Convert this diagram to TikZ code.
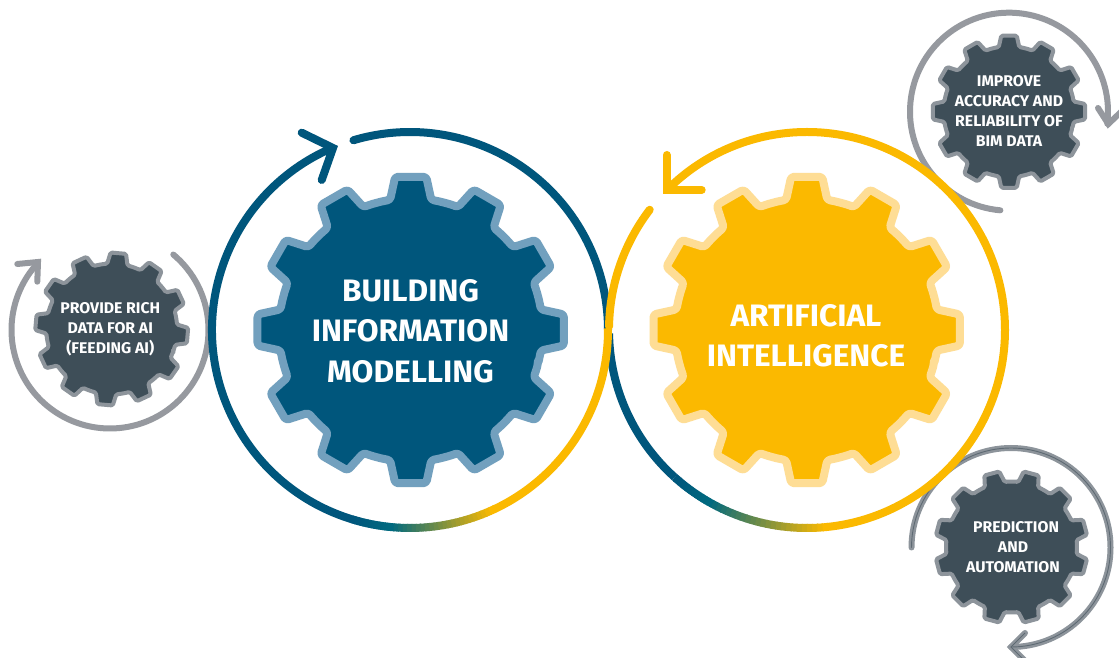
\documentclass[tikz,border=0pt]{standalone}
\usepackage{fontspec}
\setmainfont{Fira Sans}
\newfontfamily\lab[FakeStretch=1.02]{Fira Sans}
\newfontfamily\labs[FakeStretch=1.02]{Fira Sans}
\definecolor{bimblue}{HTML}{00567C}
\definecolor{bimedge}{HTML}{72A0BE}
\definecolor{aiyel}{HTML}{FBB900}
\definecolor{aiedge}{HTML}{FEDD95}
\definecolor{ringgrey}{HTML}{96999F}
\definecolor{gearfill}{HTML}{3E4E58}
\definecolor{gearedge}{HTML}{8D949B}
\definecolor{midteal}{HTML}{00697F}
\newcommand{\gearat}[5]{%
  \pgfmathsetmacro\gR{#3}\pgfmathsetmacro\gr{#3*0.855}%
  \draw[#5,shift={(#1,#2)},rotate=#4] (-15:\gr)
    \foreach \ga in {0,30,...,330}{
      arc[start angle=\ga-15,end angle=\ga-9,radius=\gr]
      -- (\ga-5.8:\gR) -- (\ga+5.8:\gR) -- (\ga+9:\gr)
      arc[start angle=\ga+9,end angle=\ga+15,radius=\gr] } -- cycle;}
\newcommand{\gradarc}[6]{% cx cy from to colA colB
  \begin{scope}[shift={(#1,#2)}]
  \foreach \gi in {0,...,23}{
    \pgfmathsetmacro\gp{100*\gi/23}
    \pgfmathsetmacro\gst{#3+(#4-#3)*\gi/24}
    \pgfmathsetmacro\gd{(#4-#3)/24+0.25}
    \colorlet{gcol}{#6!\gp!#5}
    \draw[bigring,gcol,line cap=butt] (\gst:198) arc[start angle=\gst,delta angle=\gd,radius=198];
  }
  \end{scope}}
\tikzset{
  x=1pt,y=1pt,
  bigring/.style={line width=8pt,line cap=round,line join=miter},
  smallring/.style={line width=6pt,ringgrey,line cap=round,line join=miter},
  bimgear/.style={fill=bimblue,draw=bimedge,line width=8pt,rounded corners=3pt,line join=round},
  aigear/.style={fill=aiyel,draw=aiedge,line width=8pt,rounded corners=3pt,line join=round},
  smallgear/.style={fill=gearfill,draw=gearedge,line width=4pt,rounded corners=1.5pt,line join=round},
  bigtext/.style={text=white,align=center,font=\lab\bfseries\fontsize{31}{40.5}\selectfont,inner sep=0pt},
  smalltext/.style={text=white,align=center,font=\labs\bfseries\fontsize{15.5}{20}\selectfont,inner sep=0pt},
}
\begin{document}
\begin{tikzpicture}
\useasboundingbox (0,0) rectangle (1119,658);
\clip (0,0) rectangle (1119,658);
\fill[white] (0,0) rectangle (1119,658);
% small rings
\draw[smallring] (110,328) ++(50:98.5) arc[start angle=50,end angle=-223,radius=98.5];
\draw[smallring] (17.3,394) -- (38,396) -- (37.3,376.3);
\draw[smallring] (1009,546.3) ++(265:99) arc[start angle=265,end angle=-7,radius=99];
\draw[smallring] (1098,550) -- (1108.3,534) -- (1122,547);
\draw[smallring,line width=6pt,gearedge] (1011,110.5) ++(180:99.5) arc[start angle=180,end angle=-90,radius=99.5];
\draw[smallring,line width=6pt,gearedge] (1025,25) -- (1011,11) -- (1025,-3);
\draw[line width=.9pt,gearfill!60!gearedge,line cap=round] (1011,110.5) ++(180:99.5) arc[start angle=180,end angle=-90,radius=99.5];
\draw[line width=.9pt,gearfill!60!gearedge,line join=miter] (1025,25) -- (1011,11) -- (1025,-3);
% small gears
\gearat{111.7}{329}{76.5}{-5}{smallgear}
\gearat{1009}{546.3}{76.5}{0}{smallgear}
\gearat{1011.5}{111}{76.5}{15}{smallgear}
% AI ring, blue part under
\draw[bigring,bimblue,line cap=butt] (807,328) ++(-132:198) arc[start angle=-132,end angle=-179,radius=198];
\gradarc{807}{328}{-132}{-120}{bimblue}{midteal}
\gradarc{807}{328}{-120}{-84}{midteal}{aiyel}
% BIM ring
\draw[bigring,bimblue] (410,328) ++(106.6:198) arc[start angle=106.6,end angle=0,radius=198];
\draw[bigring,aiyel,line cap=butt] (410,328) ++(0.5:198) arc[start angle=0.5,end angle=-65,radius=198];
\gradarc{410}{328}{-107}{-96}{bimblue}{midteal}
\gradarc{410}{328}{-96}{-65}{midteal}{aiyel}
\draw[bigring,bimblue,line cap=butt] (410,328) ++(-106.8:198) arc[start angle=-106.8,end angle=-247,radius=198];
\draw[bigring,bimblue] (301.7,525.3) -- (333,510) -- (321.7,478);
% AI ring, yellow part
\draw[bigring,aiyel,line cap=butt] (807,328) ++(135:198) arc[start angle=135,end angle=-84.2,radius=198];
\draw[bigring,aiyel] (807,328) ++(142.6:198) arc[start angle=142.6,end angle=179,radius=198];
\draw[bigring,aiyel] (666.7,503) -- (666.7,468) -- (701.7,468);
% big gears
\gearat{410.7}{328}{154}{0}{bimgear}
\gearat{806.7}{328}{154}{0}{aigear}
% texts
\node[bigtext] (bim) at (410.5,327) {BUILDING\\INFORMATION\\MODELLING};
\node[bigtext] (ai) at (806,322) {ARTIFICIAL\\INTELLIGENCE};
\node[smalltext] (feed) at (110.3,328.5) {PROVIDE RICH\\DATA FOR AI\\(FEEDING AI)};
\node[smalltext] (bimdata) at (1009,546.5) {IMPROVE\\ACCURACY AND\\RELIABILITY OF\\BIM DATA};
\node[smalltext] (pred) at (1013,111) {\hspace*{6pt}PREDICTION\\AND\\AUTOMATION};
\end{tikzpicture}
\end{document}
